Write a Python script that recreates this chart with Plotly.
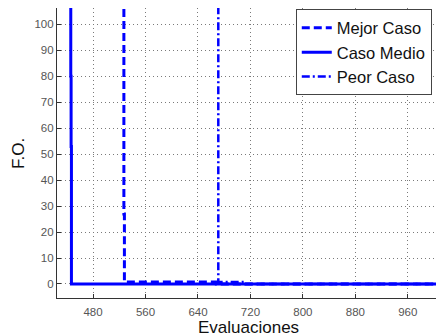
import plotly.graph_objects as go

# Data (step curves, values above the axis range are off-chart)
mejor_x = [520, 527, 527.8, 668, 1003]
mejor_y = [400, 27, 0.8, 0, 0]
medio_x = [440, 446, 446.5, 447, 1003]
medio_y = [400, 80, 53, 0, 0]
peor_x = [660, 671, 712, 1003]
peor_y = [400, 0.8, 0, 0]

x_ticks = [480, 560, 640, 720, 800, 880, 960]
y_ticks = [0, 10, 20, 30, 40, 50, 60, 70, 80, 90, 100]

blue = "#0000FF"
font_fam = "Liberation Sans, Arial"
fig = go.Figure()
fig.add_trace(go.Scatter(x=mejor_x, y=mejor_y, mode="lines", name="Mejor Caso",
                         line=dict(color=blue, width=3, dash="8px,4px", shape="hv")))
fig.add_trace(go.Scatter(x=medio_x, y=medio_y, mode="lines", name="Caso Medio",
                         line=dict(color=blue, width=3, shape="hv")))
fig.add_trace(go.Scatter(x=peor_x, y=peor_y, mode="lines", name="Peor Caso",
                         line=dict(color=blue, width=2.5, dash="8px,3px,2px,3px", shape="hv")))

axis_common = dict(showgrid=True, gridcolor="#7a7a7a", griddash="1px,3px", gridwidth=1,
                   showline=True, linecolor="#333333", linewidth=1.2, zeroline=False,
                   ticks="inside", ticklen=4, tickcolor="#333333", automargin=False,
                   tickfont=dict(family=font_fam, size=11.5, color="#555555"))

fig.update_layout(
    width=436, height=336,
    margin=dict(l=57, r=0, t=8, b=38),
    plot_bgcolor="white", paper_bgcolor="white",
    xaxis=dict(range=[425, 1003], tickvals=x_ticks, ticklabelstandoff=3, **axis_common),
    yaxis=dict(range=[-5.4, 106.3], tickvals=y_ticks, **axis_common),
    legend=dict(x=0.63, y=0.995, xanchor="left", yanchor="top",
                bgcolor="white", bordercolor="#444444", borderwidth=1,
                font=dict(family=font_fam, size=16.5, color="#111111"),
                tracegroupgap=0, itemwidth=30),
    showlegend=True,
    annotations=[
        dict(text="Evaluaciones", xref="paper", yref="paper", x=0.506, y=-0.1,
             xanchor="center", yanchor="middle", showarrow=False,
             font=dict(family=font_fam, size=17, color="#111111")),
        dict(text="F.O.", xref="paper", yref="paper", x=-0.103, y=0.5,
             xanchor="center", yanchor="middle", showarrow=False, textangle=-90,
             font=dict(family=font_fam, size=17, color="#111111")),
    ],
)

fig.write_html("out.html", config={"displayModeBar": False},
               post_script="document.body.style.margin='0';document.body.style.overflow='hidden';")
